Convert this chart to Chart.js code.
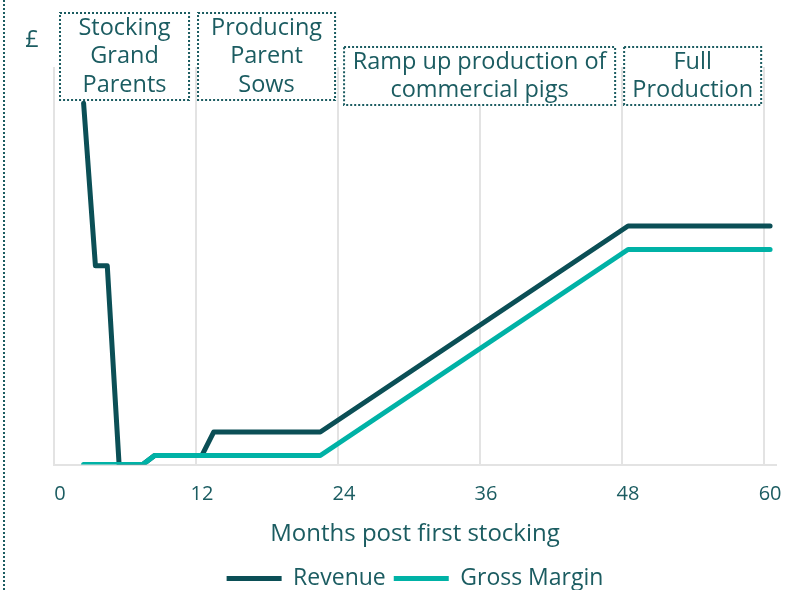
<!DOCTYPE html>
<html>
<head>
<meta charset="utf-8">
<title>Revenue and Gross Margin</title>
<script src="https://cdn.jsdelivr.net/npm/chart.js@4/dist/chart.umd.min.js"></script>
<style>
  html, body { margin: 0; padding: 0; background: #ffffff; }
  #wrap { width: 786px; height: 590px; position: relative; }
</style>
</head>
<body>
<div id="wrap"><canvas id="pigChart" width="786" height="590"></canvas></div>
<script>
// Months on the x axis (categories 0..60) and the labelled ticks
const months = Array.from({ length: 61 }, (_, i) => String(i));
const tickMonths = ['0', '12', '24', '36', '48', '60'];

// Revenue: turning points only, straight runs between them
const revenueMonths = [2, 3, 4, 5, 6, 7, 8, 12, 13, 22, 48, 60];
const revenueValues = [100, 55, 55, 0, 0, 0, 2.5, 2.5, 9, 9, 66, 66];

// Gross margin
const marginMonths = [2, 7, 8, 22, 48, 60];
const marginValues = [0, 0, 2.5, 2.5, 59.5, 59.5];

// Phase boxes along the top
const phases = [
  { from: 0, to: 12, padL: 6, padR: 7, top: 13, bottom: 100, lines: ['Stocking', 'Grand', 'Parents'] },
  { from: 12, to: 24, padL: 2, padR: 3, top: 13, bottom: 100, lines: ['Producing', 'Parent', 'Sows'] },
  { from: 24, to: 48, padL: 6, padR: 7, top: 47, bottom: 105, lines: ['Ramp up production of', 'commercial pigs'] },
  { from: 48, to: 60, padL: 2, padR: 3, top: 47, bottom: 105, lines: ['Full', 'Production'] }
];

const textColor = '#1b5c61';
const fontFamily = '"Open Sans", "Noto Sans", sans-serif';

const toPoints = (xs, ys) => xs.map((m, i) => ({ x: String(m), y: ys[i] }));

// Draws the dotted phase boxes, the £ marker and the dotted left rule
const phaseBoxes = {
  id: 'phaseBoxes',
  afterDraw(chart) {
    const ctx = chart.ctx;
    const x = chart.scales.x;
    const catW = x.getPixelForValue(1) - x.getPixelForValue(0);
    const edge = (i) => x.getPixelForValue(i) - catW / 2;

    ctx.save();
    ctx.strokeStyle = '#1b5c61';
    ctx.lineWidth = 2;
    ctx.setLineDash([2, 2]);

    // dotted rule down the left side
    ctx.beginPath();
    ctx.moveTo(4, 0);
    ctx.lineTo(4, chart.height);
    ctx.stroke();

    ctx.font = '23.5px ' + fontFamily;
    ctx.textAlign = 'center';
    ctx.textBaseline = 'middle';

    phases.forEach(p => {
      const left = edge(p.from) + p.padL;
      const right = edge(p.to) - p.padR;
      ctx.fillStyle = '#ffffff';
      ctx.fillRect(left, p.top, right - left, p.bottom - p.top);
      ctx.strokeRect(left, p.top, right - left, p.bottom - p.top);
      const cx = (left + right) / 2;
      ctx.fillStyle = textColor;
      p.lines.forEach((line, i) => {
        ctx.fillText(line, cx, p.top + 15 + i * 28.5);
      });
    });

    ctx.fillStyle = textColor;
    ctx.fillText('£', 32, 40);
    ctx.restore();
  }
};

const chart = new Chart(document.getElementById('pigChart'), {
  type: 'line',
  data: {
    labels: months,
    datasets: [
      {
        label: 'Gross Margin',
        data: toPoints(marginMonths, marginValues),
        borderColor: '#00b2a6',
        backgroundColor: '#00b2a6',
        borderWidth: 5,
        borderCapStyle: 'round',
        borderJoinStyle: 'round',
        pointRadius: 0,
        tension: 0,
        spanGaps: true
      },
      {
        label: 'Revenue',
        data: toPoints(revenueMonths, revenueValues),
        borderColor: '#0b4f56',
        backgroundColor: '#0b4f56',
        borderWidth: 5,
        borderCapStyle: 'round',
        borderJoinStyle: 'round',
        pointRadius: 0,
        tension: 0,
        spanGaps: true
      }
    ]
  },
  options: {
    responsive: false,
    animation: false,
    layout: { padding: { left: 54, right: 10, top: 67, bottom: -10 } },
    scales: {
      x: {
        type: 'category',
        offset: true,
        afterFit(scale) {
          // fixed axis band height, no extra side padding for edge labels
          scale.height = 94.5;
          scale.paddingLeft = 0;
          scale.paddingRight = 0;
        },
        grid: {
          offset: true,
          drawTicks: false,
          lineWidth: 2,
          color: (c) => (c.index % 12 === 0 && c.index <= 60) ? '#e3e3e3' : 'rgba(0,0,0,0)'
        },
        border: { color: '#e3e3e3', width: 2 },
        ticks: {
          autoSkip: false,
          maxRotation: 0,
          padding: 18,
          color: textColor,
          font: { family: fontFamily, size: 20 },
          callback: function (val, i) {
            const lbl = this.getLabelForValue(val);
            return tickMonths.includes(lbl) ? lbl : '';
          }
        },
        title: {
          display: true,
          text: 'Months post first stocking',
          color: textColor,
          font: { family: fontFamily, size: 24 },
          padding: { top: 0, bottom: 10 }
        }
      },
      y: {
        display: false,
        min: 0,
        max: 110
      }
    },
    plugins: {
      legend: {
        position: 'bottom',
        reverse: true,
        labels: {
          usePointStyle: true,
          pointStyle: 'line',
          pointStyleWidth: 55,
          color: textColor,
          font: { family: fontFamily, size: 23 },
          padding: 8
        }
      },
      tooltip: { enabled: false }
    }
  },
  plugins: [phaseBoxes]
});
</script>
</body>
</html>
